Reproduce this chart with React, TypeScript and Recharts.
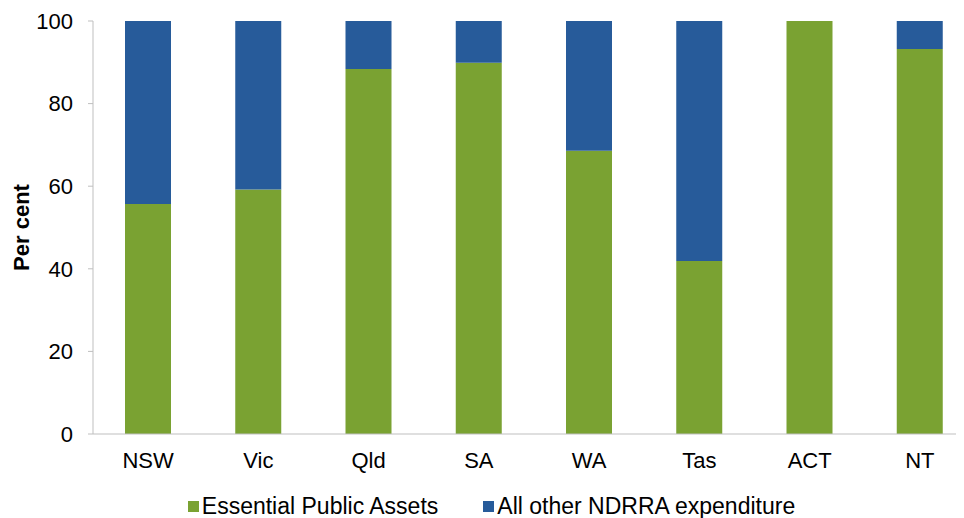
import { BarChart, Bar, XAxis, YAxis, Legend } from "recharts";

const states = ["NSW", "Vic", "Qld", "SA", "WA", "Tas", "ACT", "NT"];
const essentialAssets = [55.7, 59.2, 88.4, 89.9, 68.6, 41.9, 100, 93.2];
const otherNdrra = essentialAssets.map((v) => +(100 - v).toFixed(1));
const yTicks = [0, 20, 40, 60, 80, 100];
const legendOrder = ["Essential Public Assets", "All other NDRRA expenditure"];

const GREEN = "#7AA232";
const BLUE = "#275B9A";
const AXIS = "#BFBFBF";
const FONT = "'Liberation Sans', Arial, sans-serif";

const data = states.map((s, i) => ({ state: s, essential: essentialAssets[i], other: otherNdrra[i] }));

const renderLegend = (props: any) => {
  const items = [...(props.payload || [])].sort((a: any, b: any) => legendOrder.indexOf(a.value) - legendOrder.indexOf(b.value));
  return (
    <div style={{ display: "flex", justifyContent: "center", gap: 45, fontFamily: FONT, fontSize: 23, lineHeight: "24px", color: "#000" }}>
      {items.map((p: any) => (
        <div key={p.value} style={{ display: "flex", alignItems: "center" }}>
          <span style={{ display: "inline-block", width: 11, height: 11, background: p.color, marginRight: 3 }} />
          <span>{p.value}</span>
        </div>
      ))}
    </div>
  );
};

export default function App() {
  return (
    <div style={{ width: 956, height: 510, overflow: "hidden" }}>
      <BarChart width={967} height={510} data={data} margin={{ top: 13, right: 0, bottom: 0, left: 0 }}>
        <XAxis
          dataKey="state"
          stroke={AXIS}
          tickLine={false}
          tickSize={0}
          tickMargin={18}
          height={60}
          tick={{ fill: "#000", fontSize: 22, fontFamily: FONT }}
        />
        <YAxis
          domain={[0, 100]}
          ticks={yTicks}
          width={85}
          stroke={AXIS}
          tickSize={5}
          tickMargin={15}
          tick={{ fill: "#000", fontSize: 22, fontFamily: FONT }}
          label={{
            value: "Per cent",
            angle: -90,
            position: "insideLeft",
            offset: 13,
            textAnchor: "middle",
            style: { fill: "#000", fontSize: 22, fontWeight: "bold", fontFamily: FONT },
          }}
        />
        <Legend verticalAlign="bottom" height={24} content={renderLegend} />
        <Bar dataKey="essential" name="Essential Public Assets" stackId="a" fill={GREEN} barSize={46} isAnimationActive={false} />
        <Bar dataKey="other" name="All other NDRRA expenditure" stackId="a" fill={BLUE} barSize={46} isAnimationActive={false} />
      </BarChart>
    </div>
  );
}
